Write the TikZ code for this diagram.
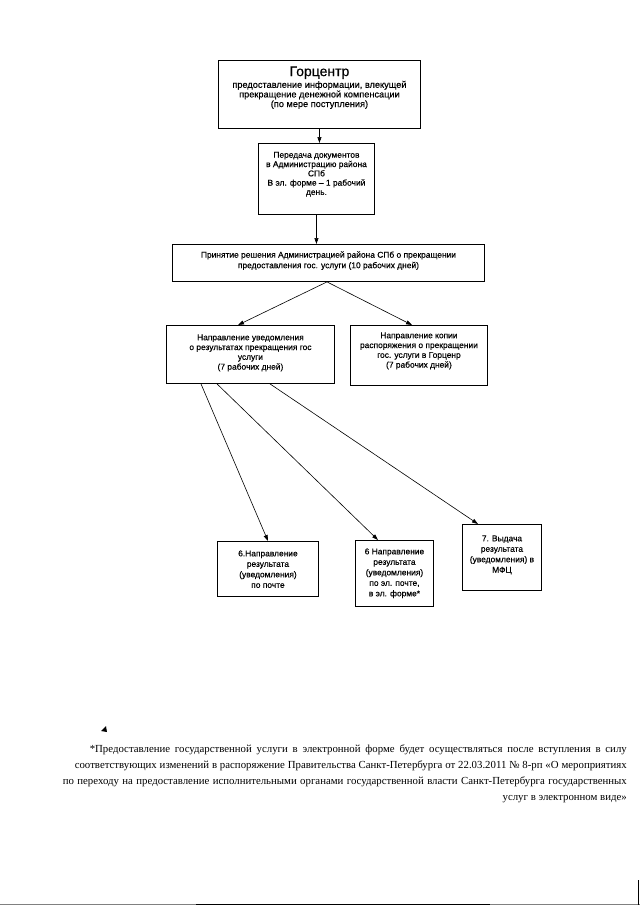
\documentclass[tikz,border=0pt]{standalone}
\usepackage{fontspec}
\setmainfont{Liberation Serif}
\newfontfamily\boxfont{Liberation Sans}[FakeBold=0.4]
\usetikzlibrary{arrows.meta}
\newcommand\boxtext[5]{\parbox[c][#2pt][t]{#1pt}{\fontsize{8.4}{#4}\selectfont\centering\vspace*{#3pt}#5\par}}
\begin{document}
\begin{tikzpicture}[x=1pt,y=-1pt,
  box/.style={draw, line width=0.9pt, inner sep=0pt, anchor=north west, font=\boxfont},
  arr/.style={line width=0.6pt, -{Triangle[length=6pt,width=4pt]}},
  foot/.style={anchor=base east, inner sep=0pt, font=\fontsize{10.8}{13}\selectfont}]
\useasboundingbox (0,0) rectangle (640,905);
\fill[white] (0,0) rectangle (640,905);

\node[box] (b1) at (218,60) {\boxtext{202}{68}{6}{9.6}{\fontsize{9.2}{9.6}\selectfont{\fontsize{14}{14}\selectfont Горцентр}\\[1pt]
 предоставление информации, влекущей\\ прекращение денежной компенсации\\ (по мере поступления)}};
\node[box] (b2) at (258,143) {\boxtext{116}{71}{8.5}{9.3}{Передача документов\\ в Администрацию района\\ СПб\\ В эл. форме – 1 рабочий\\ день.}};
\node[box] (b3) at (172,244) {\boxtext{312}{37}{7}{10.5}{Принятие решения Администрацией района СПб о прекращении\\ предоставления гос. услуги (10 рабочих дней)}};
\node[box] (b4) at (166,325) {\boxtext{168}{58}{9}{9.8}{Направление уведомления\\ о результатах прекращения гос\\ услуги\\ (7 рабочих дней)}};
\node[box] (b5) at (350,325) {\boxtext{137}{60}{7}{9.8}{Направление копии\\ распоряжения о прекращении\\ гос. услуги в Горценр\\ (7 рабочих дней)}};
\node[box] (b6) at (217,541) {\boxtext{101}{55}{9}{10.5}{6.Направление\\ результата\\ (уведомления)\\ по почте}};
\node[box] (b7) at (355,540) {\boxtext{78}{66}{8}{10.5}{6 Направление\\ результата\\ (уведомления)\\ по эл. почте,\\ в эл. форме*}};
\node[box] (b8) at (462,524) {\boxtext{79}{66}{11}{10.5}{7. Выдача\\ результата\\ (уведомления) в\\ МФЦ}};

\draw[arr] (b1.south) -- (b1.south |- b2.north);
\draw[arr] (b2.south) -- (b2.south |- b3.north);
\draw[arr] ([xshift=155pt]b3.south west) -- ([xshift=72pt]b4.north west);
\draw[arr] ([xshift=155pt]b3.south west) -- ([xshift=62pt]b5.north west);
\draw[arr] ([xshift=35pt]b4.south west) -- ([xshift=51pt]b6.north west);
\draw[arr] ([xshift=51pt]b4.south west) -- ([xshift=23pt]b7.north west);
\draw[arr] ([xshift=104pt]b4.south west) -- ([xshift=16pt]b8.north west);

\fill (101,731) -- (106,726) -- (107,732) -- cycle;

\node[foot] (f1) at (627,752) {\makebox[537pt][s]{*Предоставление государственной услуги в электронной форме будет осуществляться после вступления в силу}};
\node[foot] (f2) at (627,768) {\makebox[552pt][s]{соответствующих изменений в распоряжение Правительства Санкт-Петербурга от 22.03.2011 № 8-рп «О мероприятиях}};
\node[foot] (f3) at (627,784) {\makebox[564pt][s]{по переходу на предоставление исполнительными органами государственной власти Санкт-Петербурга государственных}};
\node[foot] (f4) at (627,800) {услуг в электронном виде»};

\draw[gray, line width=0.8pt] (0,904) -- (640,904);
\draw[line width=0.8pt] (196,904) -- (490,904);
\draw[line width=0.8pt] (638.5,880) -- (638.5,905);
\end{tikzpicture}
\end{document}
